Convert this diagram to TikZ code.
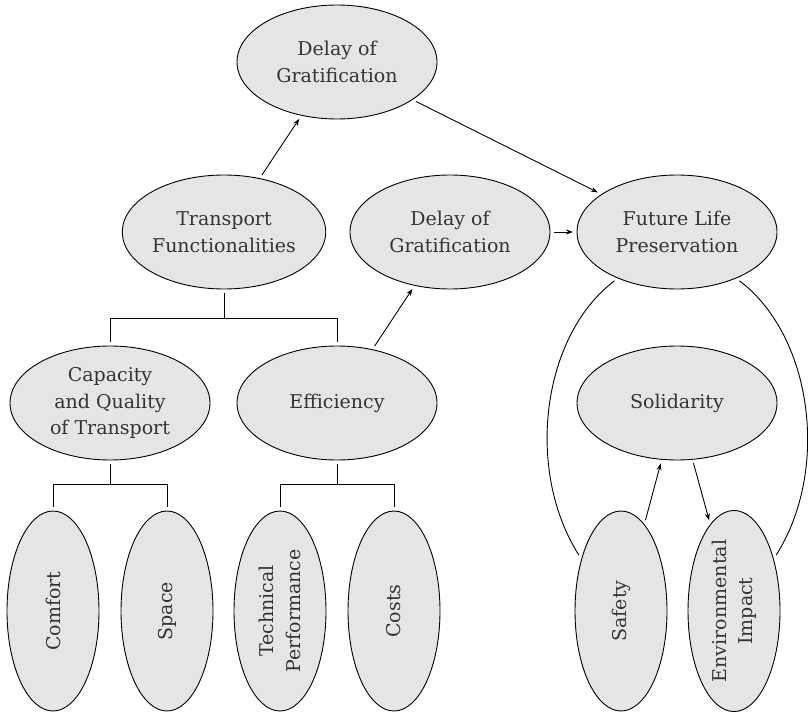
\documentclass[tikz,border=0pt]{standalone}
\usepackage{fontspec}
\setmainfont{DejaVu Serif}
\usepackage{tikz}
\usetikzlibrary{shapes.geometric}
\usetikzlibrary{arrows.meta}
\tikzset{concept/.style={ellipse,draw,fill=black!10,text=black!80,
    inner sep=0pt,outer sep=4pt,align=center,
    minimum width=200pt,minimum height=114pt,
    font=\fontsize{19}{26.5}\selectfont},
    upright/.style={concept,rotate=90,minimum height=92pt},
    link/.style={-{Stealth[length=7pt,width=5pt]}}}

\begin{document}
\begin{tikzpicture}[x=1pt,y=-1pt,line width=0.9pt]
\useasboundingbox (0,0) rectangle (808,714);
\node[concept] (topdel) at (337,62) {Delay of\\Gratification};
\node[concept] (trans) at (224,232) {Transport\\Functionalities};
\node[concept] (middel) at (450,232) {Delay of\\Gratification};
\node[concept] (fut) at (677,232) {Future Life\\Preservation};
\node[concept] (capa) at (110,403) {Capacity\\and Quality\\of Transport};
\node[concept] (effi) at (337,403) {Efficiency};
\node[concept] (soli) at (677,403) {Solidarity};
\node[upright] (comf) at (53,611) {Comfort};
\node[upright] (spac) at (167,611) {Space};
\node[upright] (tech) at (280,611) {Technical\\Performance};
\node[upright] (cost) at (394,611) {Costs};
\node[upright] (safe) at (621,611) {Safety};
\node[upright] (envi) at (734,611) {Environmental\\Impact};
% tree branches
\draw (trans.south) -- ++(0,25) -| (capa);
\draw (trans.south) -- ++(0,25) -| (effi);
\draw (capa.south) -- ++(0,20) -| (comf);
\draw (capa.south) -- ++(0,20) -| (spac);
\draw (effi.south) -- ++(0,20) -| (tech);
\draw (effi.south) -- ++(0,20) -| (cost);
% arrows
\draw[link] (trans) -- (topdel);
\draw[link] (topdel) -- (fut);
\draw[link] (middel) -- (fut);
\draw[link] (effi) -- (middel);
\draw[link] (safe) -- (soli);
\draw[link] (soli) -- (envi);
% outer arcs
\draw (fut.218) .. controls +(-73,55) and +(-54,-85) .. (safe.37);
\draw (fut.322) .. controls +(73,55) and +(54,-85) .. (envi.323);
\end{tikzpicture}
\end{document}
